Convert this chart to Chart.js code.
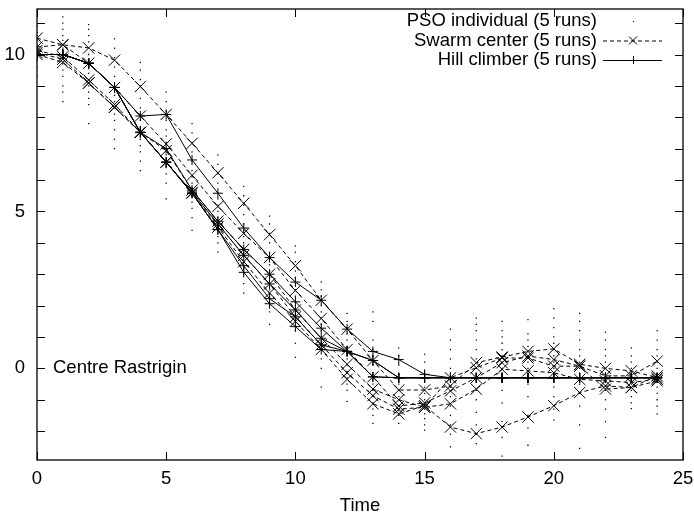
<!DOCTYPE html>
<html>
<head>
<meta charset="utf-8">
<script src="https://cdn.jsdelivr.net/npm/chart.js@4"></script>
<style>
  body { margin: 0; background: #fff; }
  canvas { display: block; }
</style>
</head>
<body>
<canvas id="rastriginChart" width="694" height="518"></canvas>
<script>
// time steps
const times = [0, 1, 2, 3, 4, 5, 6, 7, 8, 9, 10, 11, 12, 13, 14, 15, 16, 17, 18, 19, 20, 21, 22, 23, 24];

// swarm centers, 5 runs
const swarm1 = [10.52, 10.31, 10.21, 9.82, 8.98, 8.09, 7.17, 6.23, 5.26, 4.26, 3.27, 2.17, 1.25, 0.25, -0.69, -0.69, -0.56, 0.18, 0.36, 0.54, 0.62, 0.13, 0.00, -0.08, -0.30];
const swarm2 = [10.24, 10.31, 9.72, 8.95, 8.04, 7.15, 6.15, 5.16, 4.30, 3.53, 2.48, 1.59, 0.60, -0.27, -1.20, -1.10, -0.72, -0.30, 0.18, 0.39, 0.28, 0.07, -0.24, -0.24, 0.23];
const swarm3 = [10.13, 9.93, 9.19, 8.41, 7.52, 6.94, 5.68, 4.69, 3.79, 3.00, 1.86, 0.96, 0.13, -0.66, -1.00, -1.24, -1.13, -0.66, -0.03, -0.08, -0.14, -0.35, -0.40, -0.45, -0.35];
const swarm4 = [10.06, 9.85, 9.09, 8.32, 7.52, 6.57, 5.60, 4.60, 3.60, 2.69, 1.64, 0.75, -0.14, -0.87, -1.30, -1.24, -0.30, 0.02, 0.33, 0.33, 0.07, 0.07, -0.66, -0.61, -0.24];
const swarm5 = [10.00, 9.75, 9.09, 8.32, 7.52, 6.57, 5.58, 4.50, 3.40, 2.40, 1.50, 0.60, -0.35, -1.13, -1.45, -1.19, -1.87, -2.08, -1.87, -1.55, -1.19, -0.77, -0.56, -0.61, -0.40];

// hill climbers, 5 runs
const hill1 = [10.0, 10.0, 9.72, 8.95, 8.04, 8.09, 6.64, 5.58, 4.47, 3.53, 2.75, 2.17, 1.25, 0.54, 0.28, -0.19, -0.3, -0.3, -0.3, -0.3, -0.3, -0.3, -0.3, -0.3, -0.3];
const hill2 = [10.0, 10.0, 9.72, 8.95, 7.52, 7.00, 5.68, 4.69, 3.79, 3.00, 2.12, 1.28, 0.54, 0.25, -0.3, -0.3, -0.3, -0.3, -0.3, -0.3, -0.3, -0.3, -0.3, -0.3, -0.3];
const hill3 = [10.0, 10.0, 9.72, 8.95, 7.52, 6.57, 5.62, 4.60, 3.60, 2.69, 1.86, 0.96, 0.54, 0.25, -0.3, -0.3, -0.3, -0.3, -0.3, -0.3, -0.3, -0.3, -0.3, -0.3, -0.3];
const hill4 = [10.0, 10.0, 9.72, 8.95, 7.52, 6.57, 5.58, 4.42, 3.27, 2.22, 1.64, 0.75, 0.54, -0.27, -0.3, -0.3, -0.3, -0.3, -0.3, -0.3, -0.3, -0.3, -0.3, -0.3, -0.3];
const hill5 = [10.0, 10.0, 9.72, 8.95, 7.52, 6.57, 5.58, 4.42, 3.06, 2.06, 1.33, 0.60, 0.54, -0.27, -0.3, -0.3, -0.3, -0.3, -0.3, -0.3, -0.3, -0.3, -0.3, -0.3, -0.3];

// PSO individuals, one list per time step
const psoDots = [
    [10.9, 10.7, 10.6, 10.45, 10.3, 10.2, 10.1, 10.05, 9.95, 9.8, 9.6, 9.3],
    [11.2, 11.0, 10.8, 10.6, 10.45, 10.2, 10.05, 9.9, 9.7, 9.5, 9.3, 9.0, 8.8, 8.5],
    [10.95, 10.8, 10.6, 10.4, 10.0, 9.8, 9.55, 9.4, 9.2, 9.0, 8.8, 8.6, 8.4, 7.8],
    [10.5, 10.2, 9.9, 9.6, 9.3, 9.0, 8.7, 8.5, 8.3, 8.1, 7.9, 7.6, 7.3, 7.0],
    [9.75, 9.5, 9.2, 9.0, 8.6, 8.3, 8.1, 7.9, 7.7, 7.5, 7.3, 7.1, 6.9, 6.6, 6.3],
    [8.8, 8.5, 8.2, 7.9, 7.6, 7.4, 7.2, 7.0, 6.8, 6.6, 6.4, 6.2, 5.9, 5.4],
    [7.8, 7.5, 7.2, 6.9, 6.6, 6.3, 6.1, 5.9, 5.7, 5.5, 5.3, 5.1, 4.8, 4.4],
    [6.8, 6.5, 6.2, 5.9, 5.6, 5.4, 5.2, 5.0, 4.8, 4.6, 4.4, 4.2, 4.0, 3.7],
    [5.8, 5.5, 5.2, 4.9, 4.6, 4.4, 4.2, 4.0, 3.8, 3.6, 3.4, 3.2, 3.0, 2.7, 2.4],
    [4.85, 4.6, 4.3, 4.0, 3.7, 3.5, 3.3, 3.1, 2.9, 2.7, 2.5, 2.3, 2.1, 1.8, 1.4],
    [3.9, 3.7, 3.4, 3.1, 2.9, 2.7, 2.5, 2.3, 2.1, 1.9, 1.7, 1.5, 1.2, 0.8, 0.35],
    [2.75, 2.5, 2.3, 2.0, 1.8, 1.6, 1.4, 1.2, 1.0, 0.8, 0.6, 0.3, 0.0, -0.6],
    [1.75, 1.5, 1.3, 1.1, 0.9, 0.7, 0.5, 0.3, 0.1, -0.1, -0.3, -0.5, -0.7, -1.05],
    [1.8, 1.5, 0.9, 0.6, 0.4, 0.1, -0.2, -0.5, -0.7, -0.9, -1.1, -1.3, -1.5, -1.75],
    [0.65, 0.4, 0.1, -0.2, -0.5, -0.7, -0.9, -1.0, -1.2, -1.35, -1.5, -1.75],
    [0.45, 0.2, -0.1, -0.4, -0.6, -0.8, -1.0, -1.15, -1.3, -1.45, -1.6, -1.8, -1.97],
    [1.25, 0.9, 0.6, 0.3, 0.0, -0.3, -0.6, -0.9, -1.2, -1.5, -1.8, -2.1, -2.5],
    [1.6, 1.4, 1.2, 0.9, 0.6, 0.3, 0.0, -0.3, -0.7, -1.0, -1.4, -1.8, -2.1, -2.4],
    [1.5, 1.2, 1.0, 0.8, 0.6, 0.4, 0.2, 0.0, -0.3, -0.7, -1.1, -1.7, -2.2, -2.8],
    [1.55, 1.1, 0.9, 0.7, 0.55, 0.4, 0.2, 0.0, -0.2, -0.5, -0.9, -1.5, -1.9, -2.45],
    [1.9, 1.6, 1.3, 1.0, 0.8, 0.6, 0.4, 0.2, 0.0, -0.3, -0.6, -0.9, -1.3, -1.65],
    [1.75, 1.5, 1.2, 0.9, 0.6, 0.4, 0.2, 0.0, -0.2, -0.5, -0.8, -1.2, -1.8, -2.55],
    [1.15, 0.9, 0.6, 0.4, 0.2, 0.0, -0.2, -0.4, -0.7, -1.0, -1.3, -1.7, -2.2],
    [0.65, 0.4, 0.2, 0.0, -0.15, -0.3, -0.5, -0.7, -0.9, -1.1, -1.28],
    [1.2, 0.9, 0.6, 0.4, 0.2, 0.0, -0.2, -0.4, -0.6, -0.8, -1.0, -1.2, -1.45]
];

// axis ticks
const xTicks = [0, 5, 10, 15, 20, 25];
const yTicks = [-2, -1, 0, 1, 2, 3, 4, 5, 6, 7, 8, 9, 10, 11];

const FONT = "'Liberation Sans', Arial, Helvetica, sans-serif";
const FONT_SIZE = 18.5;

function pairs(values) {
    return values.map((v, i) => ({ x: times[i], y: v }));
}

document.addEventListener('DOMContentLoaded', function() {
    const dotPoints = [];
    psoDots.forEach((list, i) => list.forEach(v => dotPoints.push({ x: times[i], y: v })));

    const datasets = [];
    [swarm1, swarm2, swarm3, swarm4, swarm5].forEach(run => datasets.push({
        data: pairs(run),
        showLine: true,
        borderColor: '#000',
        borderWidth: 1,
        borderDash: [4, 3],
        pointStyle: 'crossRot',
        pointRadius: 8,
        pointBorderWidth: 1,
        pointBorderColor: '#000'
    }));
    [hill1, hill2, hill3, hill4, hill5].forEach(run => datasets.push({
        data: pairs(run),
        showLine: true,
        borderColor: '#000',
        borderWidth: 1,
        pointStyle: 'cross',
        pointRadius: 5,
        pointBorderWidth: 1,
        pointBorderColor: '#000'
    }));
    datasets.push({
        data: dotPoints,
        showLine: false,
        pointStyle: 'rect',
        pointRadius: 0.9,
        pointBorderWidth: 0,
        backgroundColor: '#000'
    });

    // frame, inward ticks, legend and label
    const decorations = {
        id: 'decorations',
        afterDraw(chart) {
            const { ctx, chartArea: a, scales: { x, y } } = chart;
            ctx.save();
            ctx.strokeStyle = '#000';
            ctx.lineWidth = 1.3;
            ctx.strokeRect(a.left, a.top, a.right - a.left, a.bottom - a.top);
            ctx.lineWidth = 1;
            ctx.beginPath();
            yTicks.forEach(v => {
                const py = Math.round(y.getPixelForValue(v)) + 0.5;
                ctx.moveTo(a.left, py); ctx.lineTo(a.left + 8, py);
                ctx.moveTo(a.right, py); ctx.lineTo(a.right - 8, py);
            });
            xTicks.forEach(v => {
                const px = Math.round(x.getPixelForValue(v)) + 0.5;
                ctx.moveTo(px, a.bottom); ctx.lineTo(px, a.bottom - 8);
                ctx.moveTo(px, a.top); ctx.lineTo(px, a.top + 8);
            });
            ctx.stroke();

            ctx.fillStyle = '#000';
            ctx.font = FONT_SIZE + 'px ' + FONT;
            ctx.textBaseline = 'middle';
            ctx.textAlign = 'left';
            ctx.fillText('Centre Rastrigin', x.getPixelForValue(0) + 16, y.getPixelForValue(0));

            // legend
            ctx.textAlign = 'right';
            const textX = 597, x0 = 603, x1 = 662, mx = 633;
            const rows = [21, 40.5, 60];
            ctx.fillText('PSO individual (5 runs)', textX, rows[0]);
            ctx.fillText('Swarm center (5 runs)', textX, rows[1]);
            ctx.fillText('Hill climber (5 runs)', textX, rows[2]);
            ctx.fillRect(mx, rows[0], 1, 1);
            ctx.beginPath();
            ctx.setLineDash([4, 3]);
            ctx.moveTo(x0, rows[1] + 0.5); ctx.lineTo(x1, rows[1] + 0.5);
            ctx.stroke();
            ctx.setLineDash([]);
            ctx.beginPath();
            ctx.moveTo(mx - 4, rows[1] - 4); ctx.lineTo(mx + 4, rows[1] + 4);
            ctx.moveTo(mx + 4, rows[1] - 4); ctx.lineTo(mx - 4, rows[1] + 4);
            ctx.moveTo(x0, rows[2] + 0.5); ctx.lineTo(x1, rows[2] + 0.5);
            ctx.moveTo(mx + 0.5, rows[2] - 4); ctx.lineTo(mx + 0.5, rows[2] + 4);
            ctx.stroke();
            ctx.restore();
        }
    };

    const ctx = document.getElementById('rastriginChart').getContext('2d');
    new Chart(ctx, {
        type: 'scatter',
        data: { datasets: datasets },
        options: {
            responsive: false,
            animation: false,
            layout: { padding: { top: 3, right: 11, left: 0, bottom: 0 } },
            plugins: {
                legend: { display: false },
                tooltip: { enabled: false }
            },
            scales: {
                x: {
                    type: 'linear',
                    min: 0,
                    max: 25,
                    afterFit: s => { s.height = 58; s.paddingLeft = 0; s.paddingRight = 0; },
                    afterBuildTicks: s => { s.ticks = xTicks.map(v => ({ value: v })); },
                    grid: { display: false, drawTicks: false },
                    border: { display: false },
                    ticks: { color: '#000', padding: 8, maxRotation: 0, autoSkip: false, font: { family: FONT, size: FONT_SIZE } },
                    title: { display: true, text: 'Time', color: '#000', padding: { top: 0, bottom: 1 }, font: { family: FONT, size: FONT_SIZE } }
                },
                y: {
                    type: 'linear',
                    min: -2.92,
                    max: 11.45,
                    afterFit: s => { s.width = 37; s.paddingTop = 0; s.paddingBottom = 0; },
                    afterBuildTicks: s => { s.ticks = yTicks.map(v => ({ value: v })); },
                    grid: { display: false, drawTicks: false },
                    border: { display: false },
                    ticks: {
                        color: '#000',
                        padding: 12,
                        autoSkip: false,
                        font: { family: FONT, size: FONT_SIZE },
                        callback: v => (v % 5 === 0 ? v : '')
                    }
                }
            }
        },
        plugins: [decorations]
    });
});
</script>
</body>
</html>
